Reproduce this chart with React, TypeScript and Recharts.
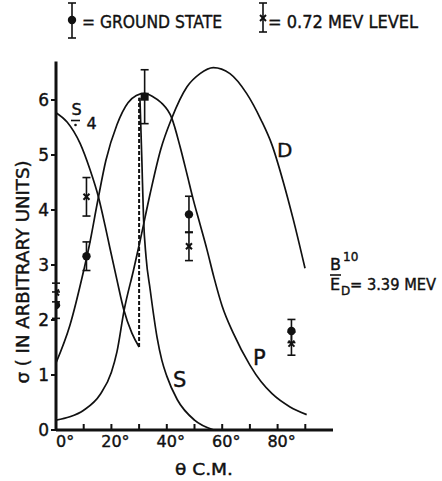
import React from "react";
import { ComposedChart, Line, Scatter, ErrorBar, XAxis, YAxis } from "recharts";

// ---- data ----
const angleTicks = [0, 10, 20, 30, 40, 50, 60, 70, 80, 90];
const sigmaTicks = [0, 1, 2, 3, 4, 5, 6];

// S curve divided by 4 (0..30 deg)
const sQuarterX = [0, 4, 8.7, 12.3, 15.3, 17.7, 19.5, 22, 24.4, 27.4, 30];
const sQuarterY = [5.77, 5.6, 5.21, 4.73, 4.24, 3.72, 3.3, 2.73, 2.2, 1.76, 1.51];

// S curve full scale (30..57 deg)
const sFullX = [30.3, 31, 31.6, 32.5, 34, 36.5, 38.2, 40, 43.8, 50, 57];
const sFullY = [6.04, 4.9, 3.85, 3.15, 2.55, 1.68, 1.27, 0.98, 0.55, 0.18, 0.0];

// dashed join between S/4 and S at 30 deg
const joinX = [30, 30];
const joinY = [1.51, 6.04];

// P curve
const pX = [0, 5, 10, 12, 15, 18, 22, 26, 29, 32, 35, 38, 41.8, 44.8, 47.2, 49.6, 52, 54.5, 57, 60, 64, 70, 74, 78, 84.5, 90.5];
const pY = [1.22, 1.9, 2.9, 3.35, 4.15, 4.9, 5.55, 5.95, 6.08, 6.12, 6.06, 5.95, 5.67, 5.15, 4.67, 4.18, 3.74, 3.28, 2.78, 2.25, 1.76, 1.18, 0.88, 0.66, 0.42, 0.28];

// D curve
const dX = [0, 5, 10, 16, 20, 22, 24.6, 28, 30.4, 34, 37.8, 41.8, 47.3, 52, 56.8, 62.8, 68.8, 74, 78, 82, 85.7, 89.9];
const dY = [0.18, 0.24, 0.36, 0.65, 1.05, 1.42, 2.18, 2.91, 3.45, 4.3, 5.1, 5.67, 6.24, 6.48, 6.59, 6.48, 6.12, 5.64, 5.18, 4.52, 3.82, 2.94];

// measured points
const groundX = [0, 11, 48, 85];
const groundY = [2.27, 3.16, 3.92, 1.8];
const groundErr = [0.24, 0.26, 0.33, 0.21];

const excitedX = [0, 11, 48, 85];
const excitedY = [2.5, 4.24, 3.34, 1.57];
const excitedErr = [0.17, 0.35, 0.26, 0.21];

// point where both levels coincide
const bothX = [32];
const bothY = [6.06];
const bothErr = [0.49];

const zip = (xs: number[], ys: number[]) => xs.map((x, i) => ({ x, y: ys[i] }));
const zipErr = (xs: number[], ys: number[], es: number[]) =>
  xs.map((x, i) => ({ x, y: ys[i], err: es[i] }));

const FONT = "'DejaVu Sans', sans-serif";
const INK = "#111";

const Dot = (p: any) => <circle cx={p.cx} cy={p.cy} r={4.2} fill={INK} />;
const Cross = (p: any) => (
  <g stroke={INK} strokeWidth={2}>
    <line x1={p.cx - 3} y1={p.cy - 3} x2={p.cx + 3} y2={p.cy + 3} />
    <line x1={p.cx - 3} y1={p.cy + 3} x2={p.cx + 3} y2={p.cy - 3} />
  </g>
);
const Square = (p: any) => <rect x={p.cx - 4} y={p.cy - 4} width={8} height={8} fill={INK} />;

const XTick = (props: any) => {
  const { x, y, payload } = props;
  const v = payload.value as number;
  const axisY = y - 8;
  const s = String(v);
  const fs = 16;
  const half = (s.length * 0.636 * fs) / 2;
  const start = v === 0 ? x : x - half;
  return (
    <g>
      <line x1={x} x2={x} y1={axisY} y2={axisY - 6} stroke={INK} strokeWidth={2} />
      {v % 20 === 0 && (
        <text x={start} y={axisY + 17} textAnchor="start" fontSize={fs} fontFamily={FONT} fill={INK} stroke={INK} strokeWidth={0.4}>
          {s + "°"}
        </text>
      )}
    </g>
  );
};

const txt = { fontFamily: FONT, fill: INK, stroke: INK, strokeWidth: 0.4 } as const;

export default function App() {
  return (
    <div style={{ position: "absolute", left: 0, top: 0, width: 442, height: 481, background: "#fff" }}>
      <ComposedChart width={442} height={481} margin={{ top: 61.5, right: 109, bottom: 21, left: 6 }}>
        <XAxis
          type="number"
          dataKey="x"
          domain={[0, 100]}
          ticks={angleTicks}
          interval={0}
          tickLine={false}
          axisLine={{ stroke: INK, strokeWidth: 3 }}
          tick={<XTick />}
          height={30}
          allowDataOverflow
        />
        <YAxis
          type="number"
          domain={[0, 6.7]}
          ticks={sigmaTicks}
          interval={0}
          width={50}
          tickSize={5}
          tickLine={{ stroke: INK, strokeWidth: 2 }}
          axisLine={{ stroke: INK, strokeWidth: 3 }}
          tick={{ fontSize: 17, fontFamily: FONT, fill: INK, stroke: INK, strokeWidth: 0.4 }}
          allowDataOverflow
        />
        <Line data={zip(sQuarterX, sQuarterY)} dataKey="y" type="monotone" stroke={INK} strokeWidth={1.7} dot={false} isAnimationActive={false} />
        <Line data={zip(sFullX, sFullY)} dataKey="y" type="monotone" stroke={INK} strokeWidth={1.7} dot={false} isAnimationActive={false} />
        <Line data={zip(joinX, joinY)} dataKey="y" type="linear" stroke={INK} strokeWidth={2} strokeDasharray="4 2" dot={false} isAnimationActive={false} />
        <Line data={zip(pX, pY)} dataKey="y" type="monotone" stroke={INK} strokeWidth={1.7} dot={false} isAnimationActive={false} />
        <Line data={zip(dX, dY)} dataKey="y" type="monotone" stroke={INK} strokeWidth={1.7} dot={false} isAnimationActive={false} />
        <Scatter data={zipErr(groundX, groundY, groundErr)} dataKey="y" shape={<Dot />} isAnimationActive={false}>
          <ErrorBar dataKey="err" direction="y" width={4} stroke={INK} strokeWidth={1.6} isAnimationActive={false} />
        </Scatter>
        <Scatter data={zipErr(excitedX, excitedY, excitedErr)} dataKey="y" shape={<Cross />} isAnimationActive={false}>
          <ErrorBar dataKey="err" direction="y" width={4} stroke={INK} strokeWidth={1.6} isAnimationActive={false} />
        </Scatter>
        <Scatter data={zipErr(bothX, bothY, bothErr)} dataKey="y" shape={<Square />} isAnimationActive={false}>
          <ErrorBar dataKey="err" direction="y" width={4} stroke={INK} strokeWidth={1.6} isAnimationActive={false} />
        </Scatter>

        {/* legend */}
        <g stroke={INK} strokeWidth={1.6}>
          <line x1={72} x2={72} y1={3} y2={38} />
          <line x1={68} x2={76} y1={3} y2={3} />
          <line x1={68} x2={76} y1={38} y2={38} />
          <line x1={263} x2={263} y1={3} y2={32} />
          <line x1={259} x2={267} y1={3} y2={3} />
          <line x1={259} x2={267} y1={32} y2={32} />
        </g>
        <circle cx={72} cy={20} r={4.2} fill={INK} />
        <g stroke={INK} strokeWidth={2}>
          <line x1={260} y1={15} x2={266} y2={21} />
          <line x1={260} y1={21} x2={266} y2={15} />
        </g>
        <text x={82} y={28} fontSize={17} textLength={140} lengthAdjust="spacingAndGlyphs" {...txt}>
          = GROUND  STATE
        </text>
        <text x={268} y={28} fontSize={17} textLength={150} lengthAdjust="spacingAndGlyphs" {...txt}>
          = 0.72 MEV  LEVEL
        </text>

        {/* y axis title */}
        <text
          x={0}
          y={0}
          transform="translate(29,272) rotate(-90)"
          textAnchor="middle"
          fontSize={17}
          textLength={223}
          lengthAdjust="spacingAndGlyphs"
          {...txt}
        >
          σ ( IN ARBITRARY UNITS)
        </text>

        {/* x axis title */}
        <text x={204} y={475} textAnchor="middle" fontSize={15} textLength={58} lengthAdjust="spacingAndGlyphs" {...txt}>
          θ  C.M.
        </text>

        {/* curve labels */}
        <text x={71.5} y={115} fontSize={16} {...txt}>S</text>
        <line x1={71} x2={80} y1={120.5} y2={120.5} stroke={INK} strokeWidth={1.6} />
        <circle cx={75.5} cy={125} r={1.3} fill={INK} />
        <text x={86.5} y={128.5} fontSize={16} {...txt}>4</text>

        <text x={277} y={157} fontSize={20} {...txt}>D</text>
        <text x={253} y={365} fontSize={21} {...txt}>P</text>
        <text x={173} y={387} fontSize={21} {...txt}>S</text>

        <text x={330} y={270} fontSize={16} {...txt}>B</text>
        <text x={343} y={261} fontSize={12} {...txt}>10</text>
        <line x1={330} x2={341} y1={275} y2={275} stroke={INK} strokeWidth={1.6} />
        <text x={330} y={290} fontSize={16} {...txt}>E</text>
        <text x={341} y={295} fontSize={12} {...txt}>D</text>
        <text x={350} y={290} fontSize={15} textLength={86} lengthAdjust="spacingAndGlyphs" {...txt}>
          = 3.39  MEV
        </text>
      </ComposedChart>
    </div>
  );
}
